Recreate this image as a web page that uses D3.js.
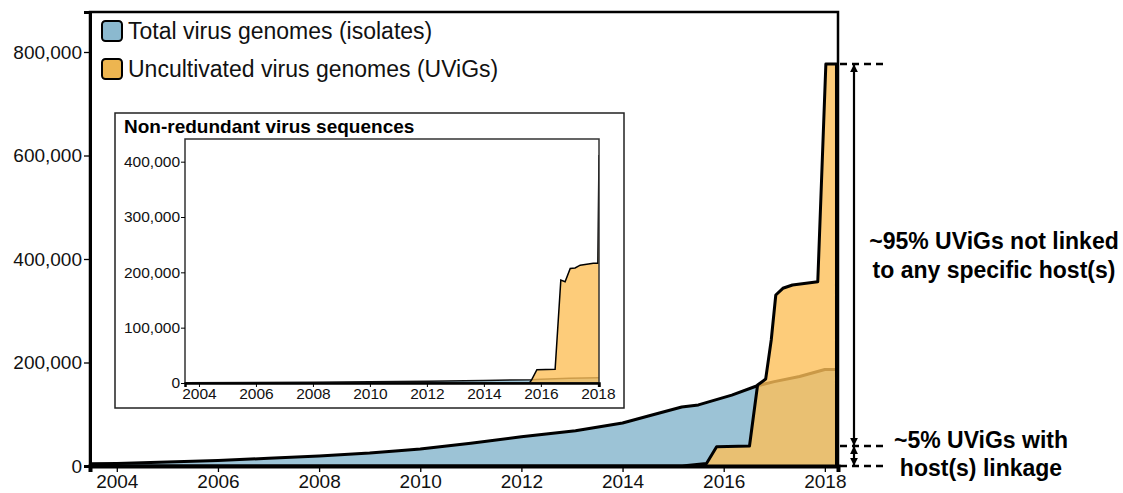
<!DOCTYPE html>
<html>
<head>
<meta charset="utf-8">
<script src="https://cdn.jsdelivr.net/npm/d3@7"></script>
<style>
  html, body { margin: 0; padding: 0; background: #fff; }
  svg { display: block; font-family: "Liberation Sans", Arial, sans-serif; }
</style>
</head>
<body>
<svg id="chart" width="1123" height="493"></svg>
<script>
// ---------- data ----------
const blueYears   = [2003.47, 2004, 2005, 2006, 2007, 2008, 2009, 2009.57, 2010, 2011, 2012, 2013.07, 2014, 2014.51, 2015.17, 2015.5, 2016.16, 2016.65, 2017, 2017.5, 2018, 2018.23];
const blueValues  = [4500, 5000, 7500, 10500, 15000, 19500, 25000, 29600, 33000, 44000, 56600, 68000, 83000, 96600, 114000, 118000, 137000, 154600, 163000, 173000, 186500, 186500];

const orangeYears  = [2003.47, 2015.18, 2015.66, 2015.86, 2016.51, 2016.67, 2016.83, 2016.94, 2017.03, 2017.17, 2017.36, 2017.86, 2018.02, 2018.23, 2018.23];
const orangeValues = [0, 0, 5000, 37300, 38600, 156500, 168000, 243500, 330400, 343400, 349800, 356100, 776800, 776800, 0];

const insetBlueYears  = [2003.51, 2006, 2008, 2010, 2012, 2014, 2015.68, 2016, 2017, 2018, 2018.04];
const insetBlueValues = [500, 1000, 1500, 2200, 3000, 4500, 6000, 7000, 8500, 9500, 9500];

const insetOrangeYears  = [2003.51, 2015.6, 2015.68, 2015.86, 2016.50, 2016.70, 2016.85, 2017.03, 2017.20, 2017.38, 2017.84, 2018.0, 2018.04];
const insetOrangeValues = [0, 0, 6000, 24000, 25000, 186000, 183000, 207000, 208000, 213000, 216600, 216600, 412000];

const xTickYears   = [2004, 2006, 2008, 2010, 2012, 2014, 2016, 2018];
const mainYTicks   = [0, 200000, 400000, 600000, 800000];
const insetYTicks  = [0, 100000, 200000, 300000, 400000];

const legendLabels = ["Total virus genomes (isolates)", "Uncultivated virus genomes (UViGs)"];
const insetTitle = "Non-redundant virus sequences";
const notLinkedLines = ["~95% UViGs not linked", "to any specific host(s)"];
const linkedLines = ["~5% UViGs with", "host(s) linkage"];
const totalUViGs = 776800;
const linkedShare = 0.05;

// ---------- styles ----------
const BLUE = "#9CC3D6", BLUE_SW = "#8BB9CF";
const ORANGE = "#FCBF59";
const ORANGE_OP = 0.8;

const svg = d3.select("#chart");
const fmt = d3.format(",");
const zip = (xs, ys) => xs.map((x, i) => ({x, y: ys[i]}));

// ---------- main chart ----------
const M = {left: 90, top: 12, right: 838, bottom: 466};
const x = d3.scaleLinear().domain([2003.47, 2018.26]).range([M.left, M.right]);
const y = d3.scaleLinear().domain([0, 877300]).range([M.bottom, M.top]);

svg.append("clipPath").attr("id", "mainClip")
  .append("rect").attr("x", M.left).attr("y", M.top)
  .attr("width", M.right - M.left).attr("height", M.bottom - M.top);

const gMain = svg.append("g").attr("clip-path", "url(#mainClip)");
const area = d3.area().x(d => x(d.x)).y0(y(0)).y1(d => y(d.y));
const line = d3.line().x(d => x(d.x)).y(d => y(d.y));

const blue = zip(blueYears, blueValues);
const orange = zip(orangeYears, orangeValues);

gMain.append("path").datum(blue).attr("d", area).attr("fill", BLUE);
gMain.append("path").datum(blue).attr("d", line).attr("fill", "none")
  .attr("stroke", "#000").attr("stroke-width", 3).attr("stroke-linejoin", "round");
gMain.append("path").datum(orange).attr("d", area).attr("fill", ORANGE).attr("fill-opacity", ORANGE_OP);
gMain.append("path").datum(orange).attr("d", line).attr("fill", "none")
  .attr("stroke", "#000").attr("stroke-width", 3).attr("stroke-linejoin", "round");

// frame
svg.append("path")
  .attr("d", `M${M.left},${M.bottom} V${M.top} H${M.right} V${M.bottom}`)
  .attr("fill", "none").attr("stroke", "#000").attr("stroke-width", 2.5);

// axes
const xAxis = svg.append("g").attr("transform", `translate(0,${M.bottom})`)
  .call(d3.axisBottom(x).tickValues(xTickYears).tickFormat(d3.format("d")).tickSize(6).tickPadding(3));
xAxis.select(".domain").attr("stroke-width", 4);
xAxis.selectAll(".tick line").attr("stroke-width", 1.3);
xAxis.selectAll("text").attr("font-size", 19).attr("fill", "#111").attr("font-family", "Liberation Sans, Arial");

const yAxis = svg.append("g").attr("transform", `translate(${M.left},0)`)
  .call(d3.axisLeft(y).tickValues(mainYTicks).tickFormat(fmt).tickSize(6).tickPadding(2));
yAxis.select(".domain").attr("stroke-width", 3);
yAxis.selectAll(".tick line").attr("stroke-width", 1.3);
yAxis.selectAll("text").attr("font-size", 19).attr("fill", "#111").attr("font-family", "Liberation Sans, Arial");

// legend
const legend = svg.append("g");
[BLUE_SW, "#EDB550"].forEach((c, i) => {
  const cy = 31 + i * 38;
  legend.append("rect").attr("x", 102).attr("y", cy - 10).attr("width", 20).attr("height", 20)
    .attr("rx", 3.5).attr("fill", c).attr("stroke", "#000").attr("stroke-width", 2);
  legend.append("text").attr("x", 128).attr("y", cy + 8).attr("font-size", 23)
    .attr("fill", "#111").text(legendLabels[i]);
});

// ---------- inset ----------
svg.append("rect").attr("x", 115).attr("y", 113).attr("width", 509).attr("height", 295)
  .attr("fill", "#fff").attr("stroke", "#222").attr("stroke-width", 1.5);
svg.append("text").attr("x", 124).attr("y", 133).attr("font-size", 19).attr("font-weight", "bold")
  .attr("fill", "#000").text(insetTitle);

const I = {left: 185, top: 139, right: 599, bottom: 383};
const xi = d3.scaleLinear().domain([2003.51, 2018.04]).range([I.left, I.right]);
const yi = d3.scaleLinear().domain([0, 441000]).range([I.bottom, I.top]);

svg.append("clipPath").attr("id", "insetClip")
  .append("rect").attr("x", I.left).attr("y", I.top)
  .attr("width", I.right - I.left).attr("height", I.bottom - I.top);
const gIn = svg.append("g").attr("clip-path", "url(#insetClip)");
const areaI = d3.area().x(d => xi(d.x)).y0(yi(0)).y1(d => yi(d.y));
const lineI = d3.line().x(d => xi(d.x)).y(d => yi(d.y));
const iBlue = zip(insetBlueYears, insetBlueValues);
const iOrange = zip(insetOrangeYears, insetOrangeValues);
gIn.append("path").datum(iBlue).attr("d", areaI).attr("fill", BLUE);
gIn.append("path").datum(iBlue).attr("d", lineI).attr("fill", "none").attr("stroke", "#111").attr("stroke-width", 1.5);
gIn.append("path").datum(iOrange).attr("d", areaI).attr("fill", ORANGE).attr("fill-opacity", ORANGE_OP);
gIn.append("path").datum(iOrange).attr("d", lineI).attr("fill", "none").attr("stroke", "#000").attr("stroke-width", 1.5);

svg.append("rect").attr("x", I.left).attr("y", I.top).attr("width", I.right - I.left).attr("height", I.bottom - I.top)
  .attr("fill", "none").attr("stroke", "#333").attr("stroke-width", 1.5);

const xiAxis = svg.append("g").attr("transform", `translate(0,${I.bottom})`)
  .call(d3.axisBottom(xi).tickValues(xTickYears).tickFormat(d3.format("d")).tickSize(4).tickPadding(1));
xiAxis.select(".domain").attr("stroke-width", 2.5);
xiAxis.selectAll("text").attr("font-size", 15.5).attr("fill", "#111").attr("font-family", "Liberation Sans, Arial");
const yiAxis = svg.append("g").attr("transform", `translate(${I.left},0)`)
  .call(d3.axisLeft(yi).tickValues(insetYTicks).tickFormat(fmt).tickSize(4).tickPadding(1));
yiAxis.select(".domain").remove();
yiAxis.selectAll("text").attr("font-size", 15.5).attr("fill", "#111").attr("font-family", "Liberation Sans, Arial");

// ---------- annotations ----------
const defs = svg.append("defs");
defs.append("marker").attr("id", "arrow").attr("viewBox", "0 0 10 10")
  .attr("refX", 9).attr("refY", 5).attr("markerWidth", 8).attr("markerHeight", 10)
  .attr("markerUnits", "userSpaceOnUse").attr("orient", "auto-start-reverse")
  .append("path").attr("d", "M0,0 L10,5 L0,10 z").attr("fill", "#000");

const yTop = y(totalUViGs), yMid = y(totalUViGs * linkedShare), yZero = y(0);
[yTop, yMid, yZero].forEach(yy => {
  svg.append("line").attr("x1", M.right + 2).attr("x2", 886).attr("y1", yy).attr("y2", yy)
    .attr("stroke", "#000").attr("stroke-width", 2.5).attr("stroke-dasharray", "7,5");
});
const ax = 854;
svg.append("line").attr("x1", ax).attr("x2", ax).attr("y1", yMid - 1).attr("y2", yTop + 1)
  .attr("stroke", "#000").attr("stroke-width", 2.2)
  .attr("marker-start", "url(#arrow)").attr("marker-end", "url(#arrow)");
svg.append("line").attr("x1", ax).attr("x2", ax).attr("y1", yZero - 1).attr("y2", yMid + 1)
  .attr("stroke", "#000").attr("stroke-width", 2.2)
  .attr("marker-start", "url(#arrow)").attr("marker-end", "url(#arrow)");

notLinkedLines.forEach((t, i) => {
  svg.append("text").attr("x", 994).attr("y", 249 + i * 29).attr("text-anchor", "middle")
    .attr("font-size", 23).attr("font-weight", "bold").attr("fill", "#000").text(t);
});
linkedLines.forEach((t, i) => {
  svg.append("text").attr("x", 981).attr("y", 448 + i * 28).attr("text-anchor", "middle")
    .attr("font-size", 23).attr("font-weight", "bold").attr("fill", "#000").text(t);
});
</script>
</body>
</html>
